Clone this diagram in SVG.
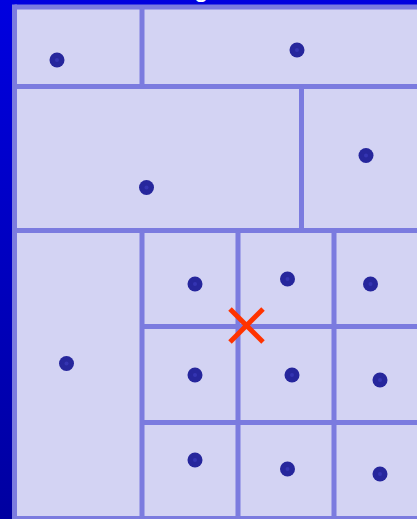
<svg xmlns="http://www.w3.org/2000/svg" width="417" height="519" viewBox="0 0 417 519">
<defs>
<linearGradient id="bg" x1="0" y1="0" x2="0" y2="1">
<stop offset="0" stop-color="#0000e0"/>
<stop offset="1" stop-color="#0000a0"/>
</linearGradient>
<style>
.ln{stroke:#7b7bdf;stroke-width:5;fill:none}
.pt{fill:#26269c}
.pc{fill:#3434b2}
.x{stroke:#ff3300;stroke-width:5;fill:none}
</style>
</defs>
<rect width="417" height="519" fill="url(#bg)"/>
<text x="194" y="-3.5" font-family="Liberation Sans, sans-serif" font-size="26" fill="#ffffff">g</text>
<rect x="14.5" y="7" width="410" height="520" fill="#d3d3f3"/>
<g id="connectors">
<line class="ln" x1="14.5" y1="7" x2="417" y2="7"/>
<line class="ln" x1="14.5" y1="4.5" x2="14.5" y2="519"/>
<line class="ln" x1="12" y1="518.5" x2="417" y2="518.5"/>
<line class="ln" x1="14.5" y1="86.5" x2="417" y2="86.5"/>
<line class="ln" x1="142" y1="7" x2="142" y2="86.5"/>
<line class="ln" x1="301.5" y1="86.5" x2="301.5" y2="230.5"/>
<line class="ln" x1="14.5" y1="230.5" x2="417" y2="230.5"/>
<line class="ln" x1="142" y1="230.5" x2="142" y2="519"/>
<line class="ln" x1="238" y1="230.5" x2="238" y2="519"/>
<line class="ln" x1="334" y1="230.5" x2="334" y2="519"/>
<line class="ln" x1="142" y1="326.5" x2="417" y2="326.5"/>
<line class="ln" x1="142" y1="422.5" x2="417" y2="422.5"/>
</g>
<g id="points">
<g id="p1"><circle class="pt" cx="57" cy="60" r="7.5"/><circle class="pc" cx="57" cy="60" r="2"/></g>
<g id="p2"><circle class="pt" cx="297" cy="50" r="7.5"/><circle class="pc" cx="297" cy="50" r="2"/></g>
<g id="p3"><circle class="pt" cx="146.5" cy="187.5" r="7.5"/><circle class="pc" cx="146.5" cy="187.5" r="2"/></g>
<g id="p4"><circle class="pt" cx="366" cy="155.5" r="7.5"/><circle class="pc" cx="366" cy="155.5" r="2"/></g>
<g id="p5"><circle class="pt" cx="66.5" cy="363.5" r="7.5"/><circle class="pc" cx="66.5" cy="363.5" r="2"/></g>
<g id="p6"><circle class="pt" cx="195" cy="284" r="7.5"/><circle class="pc" cx="195" cy="284" r="2"/></g>
<g id="p7"><circle class="pt" cx="287.5" cy="279" r="7.5"/><circle class="pc" cx="287.5" cy="279" r="2"/></g>
<g id="p8"><circle class="pt" cx="370.5" cy="284" r="7.5"/><circle class="pc" cx="370.5" cy="284" r="2"/></g>
<g id="p9"><circle class="pt" cx="195" cy="375" r="7.5"/><circle class="pc" cx="195" cy="375" r="2"/></g>
<g id="p10"><circle class="pt" cx="292" cy="375" r="7.5"/><circle class="pc" cx="292" cy="375" r="2"/></g>
<g id="p11"><circle class="pt" cx="380" cy="380" r="7.5"/><circle class="pc" cx="380" cy="380" r="2"/></g>
<g id="p12"><circle class="pt" cx="195" cy="460" r="7.5"/><circle class="pc" cx="195" cy="460" r="2"/></g>
<g id="p13"><circle class="pt" cx="287.5" cy="469" r="7.5"/><circle class="pc" cx="287.5" cy="469" r="2"/></g>
<g id="p14"><circle class="pt" cx="380" cy="474" r="7.5"/><circle class="pc" cx="380" cy="474" r="2"/></g>
</g>
<g id="query">
<line class="x" x1="230" y1="309" x2="263" y2="342"/>
<line class="x" x1="263" y1="309" x2="230" y2="342"/>
</g>
</svg>
